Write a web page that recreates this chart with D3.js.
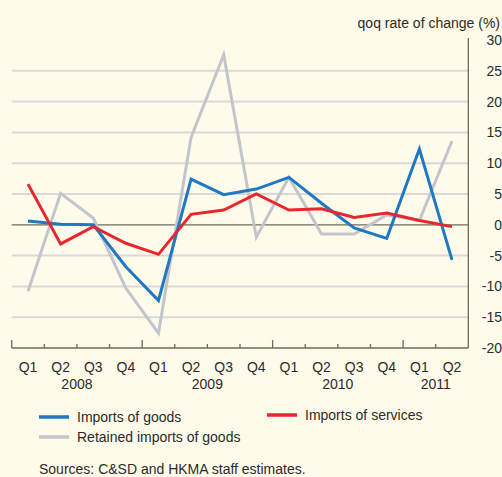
<!DOCTYPE html>
<html>
<head>
<meta charset="utf-8">
<script src="https://cdn.jsdelivr.net/npm/d3@7"></script>
<style>
  html, body { margin: 0; padding: 0; background: #FEFBEA; }
  svg { display: block; font-family: "Liberation Sans", Arial, sans-serif; }
</style>
</head>
<body>
<svg id="chart" width="502" height="477"></svg>
<script>
// Quarterly categories, 2008 Q1 – 2011 Q2
const quarters = ["Q1","Q2","Q3","Q4","Q1","Q2","Q3","Q4","Q1","Q2","Q3","Q4","Q1","Q2"];
const years = ["2008","2009","2010","2011"];
const categories = quarters.map((q, i) => years[Math.floor(i / 4)] + q);

// qoq rate of change (%)
const importsOfGoods    = [0.6, 0.1, 0.0, -6.8, -12.3, 7.4, 4.9, 5.8, 7.7, 3.5, -0.5, -2.2, 12.3, -5.7];
const importsOfServices = [6.6, -3.1, -0.3, -3.0, -4.8, 1.7, 2.4, 5.0, 2.4, 2.6, 1.2, 1.9, 0.7, -0.3];
const retainedImports   = [-10.8, 5.1, 1.1, -10.3, -17.6, 14.2, 27.6, -2.0, 7.7, -1.5, -1.5, 1.6, 0.7, 13.6];

const yTicks = [30, 25, 20, 15, 10, 5, 0, -5, -10, -15, -20];

const svg = d3.select("#chart");
const plotLeft = 11.7, plotRight = 468.3, plotTop = 40, plotBottom = 348;
const fontSize = 14;
const textColor = "#2b2b2b";

const x = d3.scaleBand().domain(categories).range([plotLeft, plotRight]).padding(0);
const y = d3.scaleLinear().domain([-20, 30]).range([plotBottom, plotTop]);
const cx = d => x(d) + x.bandwidth() / 2;

// horizontal gridlines
svg.append("g").selectAll("line")
  .data(yTicks.filter(v => v !== 30 && v !== -20 && v !== 0))
  .join("line")
  .attr("x1", plotLeft).attr("x2", plotRight)
  .attr("y1", d => y(d)).attr("y2", d => y(d))
  .attr("stroke", "#D9D9DA").attr("stroke-width", 2);

// zero line
svg.append("line")
  .attr("x1", plotLeft).attr("x2", plotRight)
  .attr("y1", y(0)).attr("y2", y(0))
  .attr("stroke", "#6E6B60").attr("stroke-width", 1.3);

// right-hand value axis
svg.append("line")
  .attr("x1", plotRight).attr("x2", plotRight)
  .attr("y1", plotTop - 2).attr("y2", plotBottom)
  .attr("stroke", "#6E6B60").attr("stroke-width", 1.3);

svg.append("g").selectAll("text")
  .data(yTicks)
  .join("text")
  .attr("x", 502).attr("y", d => y(d))
  .attr("dy", "0.35em")
  .attr("text-anchor", "end")
  .attr("font-size", fontSize)
  .attr("fill", textColor)
  .text(d => d);

svg.append("text")
  .attr("x", 500).attr("y", 23).attr("dy", "0.35em")
  .attr("text-anchor", "end")
  .attr("font-size", fontSize)
  .attr("fill", textColor)
  .text("qoq rate of change (%)");

// category axis
svg.append("line")
  .attr("x1", plotLeft).attr("x2", plotRight)
  .attr("y1", plotBottom).attr("y2", plotBottom)
  .attr("stroke", "#6E6B60").attr("stroke-width", 1.3);

svg.append("g").selectAll("line")
  .data(categories)
  .join("line")
  .attr("x1", d => x(d)).attr("x2", d => x(d))
  .attr("y1", plotBottom)
  .attr("y2", (d, i) => plotBottom - (i % 4 === 0 ? 8 : 4))
  .attr("stroke", "#6E6B60").attr("stroke-width", 1.3);

svg.append("g").selectAll("text")
  .data(categories)
  .join("text")
  .attr("x", d => cx(d)).attr("y", 367).attr("dy", "0.35em")
  .attr("text-anchor", "middle")
  .attr("font-size", fontSize)
  .attr("fill", textColor)
  .text((d, i) => quarters[i]);

svg.append("g").selectAll("text")
  .data(years)
  .join("text")
  .attr("x", (d, i) => {
    const first = categories[i * 4];
    const last = categories[Math.min(i * 4 + 3, categories.length - 1)];
    return (cx(first) + cx(last)) / 2;
  })
  .attr("y", 384).attr("dy", "0.35em")
  .attr("text-anchor", "middle")
  .attr("font-size", fontSize)
  .attr("fill", textColor)
  .text(d => d);

// series lines
const line = d3.line().x((d, i) => cx(categories[i])).y(d => y(d));
const series = [
  { name: "Retained imports of goods", values: retainedImports, color: "#C3C5CC" },
  { name: "Imports of goods", values: importsOfGoods, color: "#1E78C2" },
  { name: "Imports of services", values: importsOfServices, color: "#E8262D" }
];

svg.append("g").selectAll("path")
  .data(series)
  .join("path")
  .attr("d", d => line(d.values))
  .attr("fill", "none")
  .attr("stroke", d => d.color)
  .attr("stroke-width", 3)
  .attr("stroke-linejoin", "miter");

// legend
const legendItems = [
  { name: "Imports of goods", color: "#1E78C2", x: 39, y: 417 },
  { name: "Imports of services", color: "#E8262D", x: 267, y: 415 },
  { name: "Retained imports of goods", color: "#C3C5CC", x: 39, y: 437 }
];
const lg = svg.append("g").selectAll("g").data(legendItems).join("g");
lg.append("line")
  .attr("x1", d => d.x).attr("x2", d => d.x + 30)
  .attr("y1", d => d.y).attr("y2", d => d.y)
  .attr("stroke", d => d.color).attr("stroke-width", 3.5);
lg.append("text")
  .attr("x", d => d.x + 38).attr("y", d => d.y).attr("dy", "0.35em")
  .attr("font-size", fontSize)
  .attr("fill", textColor)
  .text(d => d.name);

svg.append("text")
  .attr("x", 39).attr("y", 469).attr("dy", "0.35em")
  .attr("font-size", fontSize)
  .attr("fill", textColor)
  .text("Sources: C&SD and HKMA staff estimates.");
</script>
</body>
</html>
